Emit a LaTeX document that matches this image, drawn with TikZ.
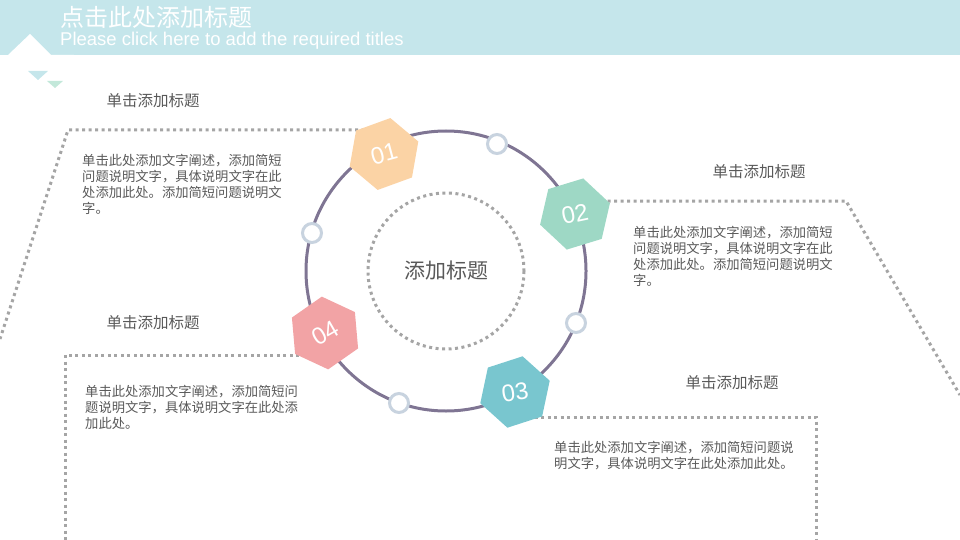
\documentclass[tikz,border=0pt]{standalone}
\usepackage{fontspec}
\setmainfont{Liberation Sans}
\newfontfamily\cjk{Noto Sans CJK SC}
\usetikzlibrary{shapes.geometric}
\definecolor{hdr}{HTML}{C5E6EB}
\definecolor{tritwo}{HTML}{C3E8DA}
\definecolor{hexa}{HTML}{FBD3A5}
\definecolor{hexb}{HTML}{9ED8C5}
\definecolor{hexc}{HTML}{79C6CF}
\definecolor{hexd}{HTML}{F2A3A5}
\definecolor{ringc}{HTML}{7F7593}
\definecolor{knob}{HTML}{C8D3DF}
\definecolor{dotgray}{HTML}{A5A5A5}
\definecolor{txt}{HTML}{595959}
\tikzset{
  dotline/.style={draw=dotgray, line width=3pt, dash pattern=on 3pt off 3.5pt},
  ring/.style={draw=ringc, line width=3pt},
  hexnode/.style={regular polygon, regular polygon sides=6, minimum size=73pt, inner sep=0pt, outer sep=0pt, text=white, font=\fontsize{24}{25}\selectfont},
  knobnode/.style={circle, draw=knob, fill=white, line width=3pt, minimum size=19pt, inner sep=0pt},
  headtxt/.style={text=txt, font=\cjk\fontsize{15.5}{17}\selectfont, inner sep=0pt},
  bodytxt/.style={text=txt, font=\cjk\fontsize{13.3}{16}\selectfont, align=left, inner sep=0pt, anchor=north west}
}
\begin{document}
\begin{tikzpicture}[x=1pt,y=-1pt]
\useasboundingbox (0,0) rectangle (960,540);
% header
\fill[hdr] (0,0) rectangle (960,55);
\fill[white] (8,55) -- (30,34) -- (62,66) -- (74,55) -- cycle;
\fill[hdr] (28,71) -- (48,71) -- (38,80) -- cycle;
\fill[tritwo] (47,81) -- (63,81) -- (55,88) -- cycle;
\node[anchor=west, inner sep=0pt, text=white, font=\cjk\fontsize{24}{25}\selectfont] (title) at (60,17) {点击此处添加标题};
\node[anchor=west, inner sep=0pt, text=white, font=\fontsize{18.5}{20}\selectfont] (subtitle) at (60,41) {Please click here to add the required titles};
% coordinates
\coordinate (O) at (446,271);
\coordinate (p1) at (384,154);
\coordinate (p2) at (575,214);
\coordinate (p3) at (515,392);
\coordinate (p4) at (325,333);
\coordinate (a1) at (68,130);  \coordinate (b1) at (0,339);
\coordinate (a2) at (846,201); \coordinate (b2) at (960,395);
\coordinate (a3) at (816,417); \coordinate (b3) at (816,540);
\coordinate (a4) at (65,355);  \coordinate (b4) at (65,540);
% connectors
\draw[dotline] (a1 -| p1) -- (a1) -- (b1);
\draw[dotline] (a2 -| p2) -- (a2) -- (b2);
\draw[dotline] (a3 -| p3) -- (a3) -- (b3);
\draw[dotline] (a4 -| p4) -- (a4) -- (b4);
% rings
\draw[ring] (O) circle[radius=140];
\draw[dotline] (O) circle[radius=78];
\node[text=txt, font=\cjk\fontsize{21}{22}\selectfont, inner sep=0pt] (ctext) at (O) {添加标题};
% knobs
\node[knobnode] (k1) at (497,144) {};
\node[knobnode] (k2) at (312,233) {};
\node[knobnode] (k3) at (576,323) {};
\node[knobnode] (k4) at (399,403) {};
% hexagons
\node[hexnode, fill=hexa, rotate=15, shape border rotate=5] (h1) at (p1) {01};
\node[hexnode, fill=hexb, rotate=12, shape border rotate=5] (h2) at (p2) {02};
\node[hexnode, fill=hexc, rotate=9, shape border rotate=9] (h3) at (p3) {03};
\node[hexnode, fill=hexd, rotate=30, shape border rotate=5] (h4) at (p4) {04};
% headings
\node[headtxt] (t1) at (153,101) {单击添加标题};
\node[headtxt] (t2) at (759,172) {单击添加标题};
\node[headtxt] (t3) at (732,383) {单击添加标题};
\node[headtxt] (t4) at (153,323) {单击添加标题};
% body texts
\node[bodytxt] (d1) at (82,154) {单击此处添加文字阐述，添加简短\\问题说明文字，具体说明文字在此\\处添加此处。添加简短问题说明文\\字。};
\node[bodytxt] (d2) at (633,226) {单击此处添加文字阐述，添加简短\\问题说明文字，具体说明文字在此\\处添加此处。添加简短问题说明文\\字。};
\node[bodytxt] (d3) at (554,441) {单击此处添加文字阐述，添加简短问题说\\明文字，具体说明文字在此处添加此处。};
\node[bodytxt] (d4) at (85,385) {单击此处添加文字阐述，添加简短问\\题说明文字，具体说明文字在此处添\\加此处。};
\end{tikzpicture}
\end{document}
